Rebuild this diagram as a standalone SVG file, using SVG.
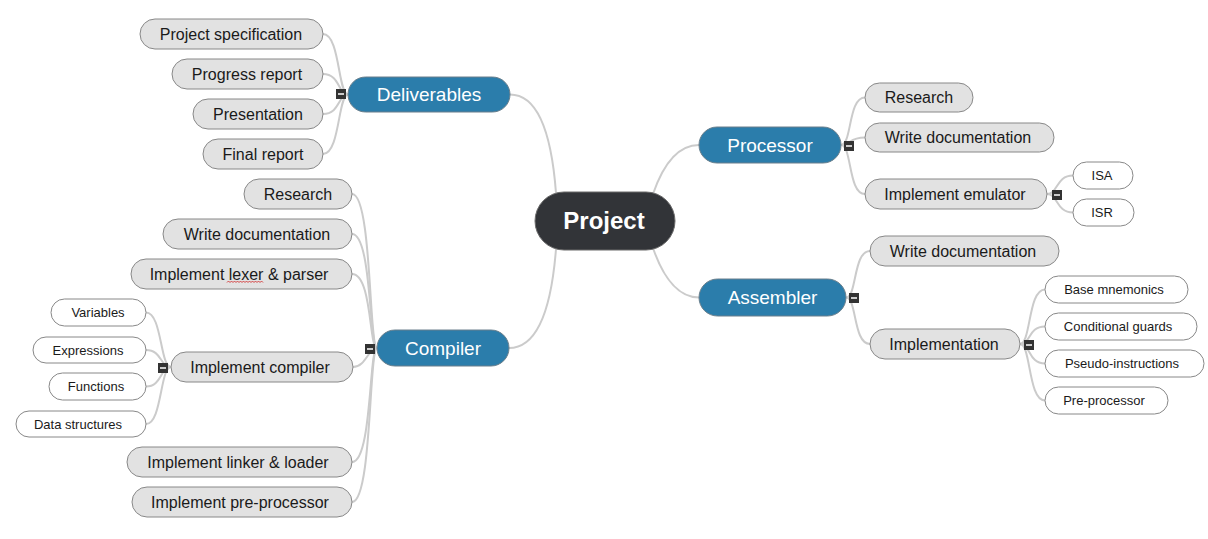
<svg xmlns="http://www.w3.org/2000/svg" width="1208" height="539" viewBox="0 0 1208 539">
<style>
text{font-family:"Liberation Sans",Arial,sans-serif;text-anchor:middle}
.root rect{fill:#323438;stroke:#6a6a6a;stroke-width:1}
.root text{fill:#fff;font-size:24px;font-weight:bold}
.main rect{fill:#2b7dab;stroke:#6a7f8c;stroke-width:1}
.main text{fill:#fff;font-size:19px}
.sub rect{fill:#e2e2e2;stroke:#888;stroke-width:1}
.sub text{fill:#1a1a1a;font-size:16px}
.leaf rect{fill:#fff;stroke:#888;stroke-width:1}
.leaf text{fill:#1a1a1a;font-size:13px}
.conn path{fill:none;stroke:#cbcbcb;stroke-width:2}
.tog rect{fill:#333;stroke:none}
.tog line{stroke:#ccc;stroke-width:2}
</style>
<rect width="1208" height="539" fill="#fff"/>
<g id="connectors" class="conn">
<path d="M510 94.5 C540 94.5 552 140 556 193"/>
<path d="M556 249 C552 300 540 348 509 348"/>
<path d="M653 194 C664 162 680 145 699 145"/>
<path d="M653 248 C664 280 680 297.5 699 297.5"/>
<path d="M323 34 C340 34 338 94.5 348 94.5"/>
<path d="M323 74 C340 74 338 94.5 348 94.5"/>
<path d="M323 114 C340 114 338 94.5 348 94.5"/>
<path d="M323 154 C340 154 338 94.5 348 94.5"/>
<path d="M352 194 C372 194 369 348 377 348"/>
<path d="M352 234 C372 234 369 348 377 348"/>
<path d="M352 274 C372 274 369 348 377 348"/>
<path d="M353 367 C366 367 368 348 377 348"/>
<path d="M352 462 C372 462 369 348 377 348"/>
<path d="M352 502 C372 502 369 348 377 348"/>
<path d="M146 312.5 C162 312.5 160 367 171 367"/>
<path d="M146 350 C162 350 160 367 171 367"/>
<path d="M146 386.5 C162 386.5 160 367 171 367"/>
<path d="M146 424 C162 424 160 367 171 367"/>
<path d="M841 145 C852 145 848 97.5 865 97.5"/>
<path d="M841 145 C852 145 848 137.5 865 137.5"/>
<path d="M841 145 C852 145 848 194 865 194"/>
<path d="M1047 194 C1058 194 1056 175.5 1073 175.5"/>
<path d="M1047 194 C1058 194 1056 212.5 1073 212.5"/>
<path d="M846 297.5 C857 297.5 853 251 870 251"/>
<path d="M846 297.5 C857 297.5 853 344 870 344"/>
<path d="M1020 344 C1031 344 1028 289.5 1045 289.5"/>
<path d="M1020 344 C1031 344 1028 326.5 1045 326.5"/>
<path d="M1020 344 C1031 344 1028 363.5 1045 363.5"/>
<path d="M1020 344 C1031 344 1028 400.5 1045 400.5"/>
</g>
<g id="project" class="root"><rect x="535" y="192" width="140" height="58" rx="29"/><text x="604" y="229">Project</text></g>
<g id="deliverables" class="main"><rect x="348" y="77" width="162" height="35" rx="17.5"/><text x="429" y="101">Deliverables</text></g>
<g id="compiler" class="main"><rect x="377" y="330" width="132" height="36" rx="18"/><text x="443" y="355">Compiler</text></g>
<g id="processor" class="main"><rect x="699" y="127" width="142" height="36" rx="18"/><text x="770" y="152">Processor</text></g>
<g id="assembler" class="main"><rect x="699" y="279" width="147" height="37" rx="18.5"/><text x="772.5" y="304">Assembler</text></g>

<g id="project-spec" class="sub"><rect x="140" y="19" width="183" height="30" rx="15"/><text x="231" y="39.5">Project specification</text></g>
<g id="progress-report" class="sub"><rect x="172" y="59" width="151" height="30" rx="15"/><text x="247" y="79.5">Progress report</text></g>
<g id="presentation" class="sub"><rect x="193" y="99" width="130" height="30" rx="15"/><text x="258" y="119.5">Presentation</text></g>
<g id="final-report" class="sub"><rect x="203" y="139" width="120" height="30" rx="15"/><text x="263" y="159.5">Final report</text></g>

<g id="c-research" class="sub"><rect x="244" y="179" width="108" height="30" rx="15"/><text x="298" y="199.5">Research</text></g>
<g id="c-writedoc" class="sub"><rect x="163" y="219" width="189" height="30" rx="15"/><text x="257" y="239.5">Write documentation</text></g>
<g id="c-lexer" class="sub"><rect x="131" y="259" width="221" height="30" rx="15"/><text x="239" y="279.5">Implement lexer &amp; parser</text><path d="M227 282.5 l1.5-1.5 1.5 1.5 1.5-1.5 1.5 1.5 1.5-1.5 1.5 1.5 1.5-1.5 1.5 1.5 1.5-1.5 1.5 1.5 1.5-1.5 1.5 1.5 1.5-1.5 1.5 1.5 1.5-1.5 1.5 1.5 1.5-1.5 1.5 1.5 1.5-1.5 1.5 1.5 1.5-1.5 1.5 1.5 1.5-1.5 1.5 1.5" fill="none" stroke="#d02020" stroke-width="0.8"/></g>
<g id="c-compiler" class="sub"><rect x="171" y="352" width="182" height="30" rx="15"/><text x="260" y="372.5">Implement compiler</text></g>
<g id="c-linker" class="sub"><rect x="127" y="447" width="225" height="30" rx="15"/><text x="238" y="467.5">Implement linker &amp; loader</text></g>
<g id="c-preproc" class="sub"><rect x="132" y="487" width="220" height="30" rx="15"/><text x="240" y="507.5">Implement pre-processor</text></g>

<g id="variables" class="leaf"><rect x="51" y="299" width="95" height="27" rx="13.5"/><text x="98" y="317">Variables</text></g>
<g id="expressions" class="leaf"><rect x="33" y="337" width="113" height="26" rx="13"/><text x="88" y="354.5">Expressions</text></g>
<g id="functions" class="leaf"><rect x="49" y="373" width="97" height="27" rx="13.5"/><text x="96" y="391">Functions</text></g>
<g id="data-structures" class="leaf"><rect x="16" y="411" width="130" height="26" rx="13"/><text x="78" y="428.5">Data structures</text></g>

<g id="p-research" class="sub"><rect x="865" y="83" width="108" height="29" rx="14.5"/><text x="919" y="103">Research</text></g>
<g id="p-writedoc" class="sub"><rect x="865" y="123" width="189" height="29" rx="14.5"/><text x="958" y="143">Write documentation</text></g>
<g id="p-emulator" class="sub"><rect x="865" y="179" width="182" height="30" rx="15"/><text x="955" y="199.5">Implement emulator</text></g>
<g id="isa" class="leaf"><rect x="1073" y="162" width="60" height="27" rx="13.5"/><text x="1102" y="180">ISA</text></g>
<g id="isr" class="leaf"><rect x="1073" y="199" width="61" height="27" rx="13.5"/><text x="1102" y="217">ISR</text></g>

<g id="a-writedoc" class="sub"><rect x="870" y="236" width="189" height="30" rx="15"/><text x="963" y="256.5">Write documentation</text></g>
<g id="a-impl" class="sub"><rect x="870" y="329" width="150" height="30" rx="15"/><text x="944" y="349.5">Implementation</text></g>
<g id="base-mnemonics" class="leaf"><rect x="1045" y="276" width="143" height="27" rx="13.5"/><text x="1114" y="294">Base mnemonics</text></g>
<g id="cond-guards" class="leaf"><rect x="1045" y="313" width="152" height="27" rx="13.5"/><text x="1118" y="331">Conditional guards</text></g>
<g id="pseudo-instr" class="leaf"><rect x="1045" y="350" width="159" height="27" rx="13.5"/><text x="1122" y="368">Pseudo-instructions</text></g>
<g id="pre-processor" class="leaf"><rect x="1045" y="387" width="123" height="27" rx="13.5"/><text x="1104" y="405">Pre-processor</text></g>

<g id="toggles" class="tog">
<rect x="336" y="89" width="10" height="10"/><line x1="338" y1="94" x2="344" y2="94"/>
<rect x="365" y="344" width="10" height="10"/><line x1="367" y1="349" x2="373" y2="349"/>
<rect x="158" y="363" width="10" height="10"/><line x1="160" y1="368" x2="166" y2="368"/>
<rect x="844" y="141" width="10" height="10"/><line x1="846" y1="146" x2="852" y2="146"/>
<rect x="1052" y="190" width="10" height="10"/><line x1="1054" y1="195" x2="1060" y2="195"/>
<rect x="849" y="293" width="10" height="10"/><line x1="851" y1="298" x2="857" y2="298"/>
<rect x="1024" y="340" width="10" height="10"/><line x1="1026" y1="345" x2="1032" y2="345"/>
</g>
</svg>
